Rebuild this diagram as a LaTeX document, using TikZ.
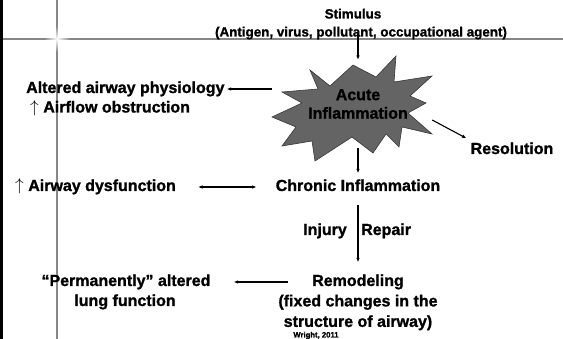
\documentclass[tikz,border=0pt]{standalone}
\usepackage{fontspec}
\setmainfont{Liberation Sans}[BoldFeatures={FakeBold=1.2}]
\usetikzlibrary{arrows.meta,calc,fadings}
\definecolor{burstgray}{RGB}{100,100,100}
\definecolor{burstedge}{RGB}{55,55,55}
\definecolor{framegray}{RGB}{135,135,135}
\tikzfading[name=glowfade, inner color=transparent!0, outer color=transparent!100]

\tikzset{
  txt/.style={font=\fontsize{16}{20.5}\selectfont\bfseries, inner sep=2pt, text height=11.5pt, text depth=3.5pt},
  txtml/.style={font=\fontsize{16}{20.5}\selectfont\bfseries, inner sep=2pt, align=center},
  small/.style={font=\fontsize{13.4}{16}\selectfont\bfseries, inner sep=1pt, text height=10pt, text depth=3pt},
  arr/.style={-{Latex[length=4.5pt,width=3.6pt]}, line width=1.1pt},
  dblarr/.style={{Latex[length=4.5pt,width=3.6pt]}-{Latex[length=4.5pt,width=3.6pt]}, line width=1.1pt},
  burst/.style={fill=burstgray, draw=burstedge, line width=0.6pt, line join=miter},
}

\begin{document}
\begin{tikzpicture}[x=1pt,y=-1pt]
% Slide frame
\useasboundingbox (0,0) rectangle (563,339);
\fill[white] (0,0) rectangle (563,339);
\fill[black] (0,0) rectangle (3,339);
\draw[framegray, line width=1.8pt] (3,39) -- (563,39);
\draw[framegray, line width=1.8pt] (57,0) -- (57,339);
\fill[white, path fading=glowfade] (57,39) circle (13pt);

% Starburst
\draw[burst] (310,70) -- (330,86) -- (353,65) -- (376,77) -- (396,56) -- (394,82)
  -- (432,76) -- (410,96) -- (426,103) -- (408,113) -- (432,134) -- (402,127)
  -- (399,147) -- (386,134) -- (373,153) -- (352,137) -- (315,161) -- (312,141)
  -- (282,146) -- (296,127) -- (272,117) -- (302,103) -- (282,92) -- (318,89) -- cycle;

% Nodes
\node[small] (stimulus) at (353,15) {Stimulus};
\node[small] (agent) at (361,33) {(Antigen, virus, pollutant, occupational agent)};
\node[txtml, font=\fontsize{16}{18.5}\selectfont\bfseries, minimum width=172pt, minimum height=88pt] (acute) at (358,104) {Acute\\Inflammation};
\node[txt, anchor=west] (altered) at (24,89) {Altered airway physiology};
\node[txt, anchor=west] (airflow) at (28,108.5) {$\uparrow$ Airflow obstruction};
\node[txt] (resolution) at (512,150) {Resolution};
\node[txt, anchor=west] (dysfunction) at (13,187) {$\uparrow$ Airway dysfunction};
\node[txt] (chronic) at (358,187) {Chronic Inflammation};
\node[txt, anchor=east] (injury) at (349,231) {Injury};
\node[txt, anchor=west] (repair) at (359,231) {Repair};
\node[txt] (remodel) at (358,282) {Remodeling};
\node[txtml] (fixed) at (358,312.5) {(fixed changes in the\\structure of airway)};
\node[txt] (permanent) at (126,282) {“Permanently” altered};
\node[txt] (lungfn) at (125,302) {lung function};
\node[font=\fontsize{7.7}{9}\selectfont\bfseries, inner sep=1pt] (wright) at (316,335.5) {Wright, 2011};

% Connectors
\draw[arr] (acute.north |- agent) -- (acute.north);
\draw[arr] (acute.west |- altered) -- (altered);
\draw[arr] ($(acute.east)+(-12,16)$) -- ($(resolution.north west)+(-2,-2)$);
\draw[arr, shorten >=4pt] (acute.south) -- (chronic);
\draw[dblarr, shorten <=20pt, shorten >=17pt] (dysfunction) -- (chronic);
\draw[arr, shorten <=8pt, shorten >=10pt] (chronic.south) -- (remodel.north);
\draw[arr, shorten <=22pt, shorten >=21pt] (remodel) -- (permanent);
\end{tikzpicture}
\end{document}
